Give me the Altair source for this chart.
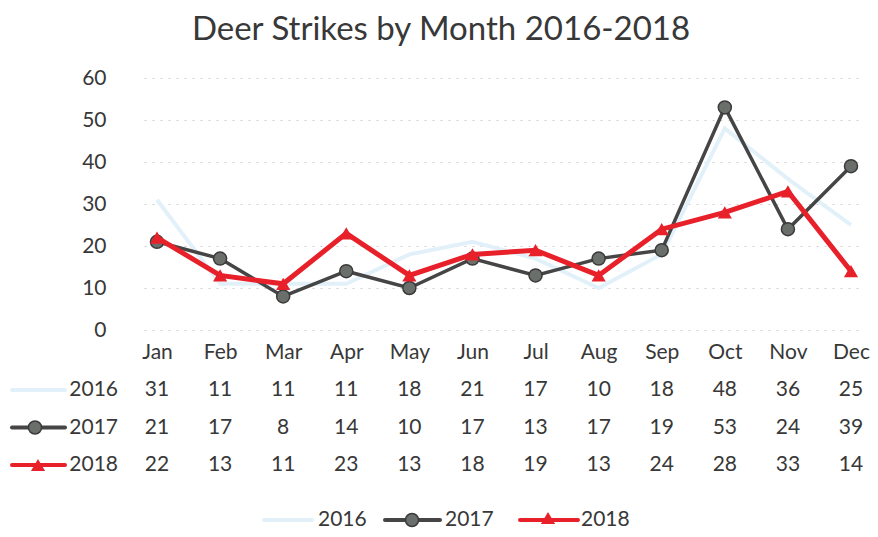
import altair as alt
import pandas as pd

months = ["Jan", "Feb", "Mar", "Apr", "May", "Jun", "Jul", "Aug", "Sep", "Oct", "Nov", "Dec"]
years = ["2016", "2017", "2018"]
v2016 = [31, 11, 11, 11, 18, 21, 17, 10, 18, 48, 36, 25]
v2017 = [21, 17, 8, 14, 10, 17, 13, 17, 19, 53, 24, 39]
v2018 = [22, 13, 11, 23, 13, 18, 19, 13, 24, 28, 33, 14]
y_ticks = [0, 10, 20, 30, 40, 50, 60]

FONT = "Lato"
TXT = "#383838"
C16 = "#e2f1f9"
C17 = "#454545"
C17F = "#6b6f6c"
C18 = "#e8202a"
FS = 21

rows = []
for i, (yr, vals) in enumerate(zip(years, [v2016, v2017, v2018])):
    for m, v in zip(months, vals):
        rows.append({"month": m, "year": yr, "value": v, "row": i})
df = pd.DataFrame(rows)

keys = pd.DataFrame({"year": years, "row": [0, 1, 2]})

# bottom legend layout (pixel offsets within plot frame)
leg = pd.DataFrame({
    "year": years,
    "x1": [120, 241, 376],
    "x2": [168, 296, 434],
    "xm": [145, 268, 404],
    "xt": [174, 301, 437],
})

W, H = 720, 252
PAD = 0.206

xenc = alt.X("month:O", sort=months,
             scale=alt.Scale(type="point", padding=PAD),
             axis=alt.Axis(title=None, labelAngle=0, domain=False, ticks=False,
                           labelPadding=11, labelFontSize=FS, labelColor=TXT,
                           labelFont=FONT, grid=False))
yenc = alt.Y("value:Q", scale=alt.Scale(domain=[0, 60]),
             axis=alt.Axis(values=y_ticks, title=None, domain=False, ticks=False,
                           labelPadding=38, labelFontSize=FS, labelColor=TXT,
                           labelFont=FONT, grid=True, gridColor="#d0d0d0",
                           gridDash=[2, 6], gridWidth=1))

base = alt.Chart(df)
l16 = base.transform_filter("datum.year == '2016'").mark_line(
    color=C16, strokeWidth=4).encode(x=xenc, y=yenc)
l17 = base.transform_filter("datum.year == '2017'").mark_line(
    color=C17, strokeWidth=3.5).encode(x=xenc, y=yenc)
p17 = base.transform_filter("datum.year == '2017'").mark_point(
    shape="circle", filled=True, size=170, fill=C17F, stroke="#3a3a3a",
    strokeWidth=1.5, opacity=1).encode(x=xenc, y=yenc)
l18 = base.transform_filter("datum.year == '2018'").mark_line(
    color=C18, strokeWidth=5).encode(x=xenc, y=yenc)
p18 = base.transform_filter("datum.year == '2018'").mark_point(
    shape="triangle-up", filled=True, size=200, color=C18, opacity=1).encode(x=xenc, y=yenc)
main = alt.layer(l16, l17, p17, l18, p18)

row_y = alt.Y("row:Q", scale=alt.Scale(domain=[0, 2], range=[312, 387]), axis=None)
xtab = alt.X("month:O", sort=months, scale=alt.Scale(type="point", padding=PAD), axis=None)
year_color = alt.Color("year:N", scale=alt.Scale(domain=years, range=[C16, C17, C18]), legend=None)
year_width = alt.StrokeWidth("year:N", scale=alt.Scale(domain=years, range=[4, 4, 5]), legend=None)

tab_vals = base.mark_text(font=FONT, fontSize=FS, color=TXT, baseline="middle").encode(
    x=xtab, y=row_y, text="value:Q")
tab_years = alt.Chart(keys).mark_text(font=FONT, fontSize=FS, color=TXT, align="right",
                                      baseline="middle").encode(
    x=alt.value(-26), y=row_y, text="year:N")
tab_lines = alt.Chart(keys).mark_rule(strokeCap="round").encode(
    x=alt.value(-132), x2=alt.value(-79), y=row_y, color=year_color, strokeWidth=year_width)
tab_p17 = alt.Chart(keys).transform_filter("datum.year == '2017'").mark_point(
    shape="circle", filled=True, size=170, fill=C17F, stroke="#3a3a3a", strokeWidth=1.5,
    opacity=1).encode(x=alt.value(-109), y=row_y)
tab_p18 = alt.Chart(keys).transform_filter("datum.year == '2018'").mark_point(
    shape="triangle-up", filled=True, size=200, color=C18, opacity=1).encode(
    x=alt.value(-106), y=row_y)
table = alt.layer(tab_vals, tab_years, tab_lines, tab_p17, tab_p18)

LY = 442
lx = alt.Scale(domain=[0, W], range=[0, W])
leg_lines = alt.Chart(leg).mark_rule(strokeCap="round").encode(
    x=alt.X("x1:Q", scale=lx, axis=None), x2="x2:Q", y=alt.value(LY), color=year_color,
    strokeWidth=year_width)
leg_p17 = alt.Chart(leg).transform_filter("datum.year == '2017'").mark_point(
    shape="circle", filled=True, size=170, fill=C17F, stroke="#3a3a3a", strokeWidth=1.5,
    opacity=1).encode(x=alt.X("xm:Q", scale=lx, axis=None), y=alt.value(LY))
leg_p18 = alt.Chart(leg).transform_filter("datum.year == '2018'").mark_point(
    shape="triangle-up", filled=True, size=200, color=C18, opacity=1).encode(
    x=alt.X("xm:Q", scale=lx, axis=None), y=alt.value(LY - 2))
leg_txt = alt.Chart(leg).mark_text(font=FONT, fontSize=FS, color=TXT, align="left",
                                   baseline="middle").encode(
    x=alt.X("xt:Q", scale=lx, axis=None), y=alt.value(LY), text="year:N")
legend = alt.layer(leg_lines, leg_p17, leg_p18, leg_txt)

chart = alt.layer(main, table, legend).resolve_scale(
    y="independent", x="independent", color="independent", strokeWidth="independent"
).properties(
    width=W, height=H,
    background="white",
    title=alt.TitleParams("Deer Strikes by Month 2016-2018", font=FONT, fontSize=33,
                          fontWeight="normal", color=TXT, anchor="middle", dx=-63, offset=20),
    autosize=alt.AutoSizeParams(type="none"),
    padding={"left": 136, "top": 70, "right": 6, "bottom": 199},
).configure_view(strokeWidth=0, stroke="transparent")

chart.save("out.html", embed_options={"renderer": "svg", "actions": False})
